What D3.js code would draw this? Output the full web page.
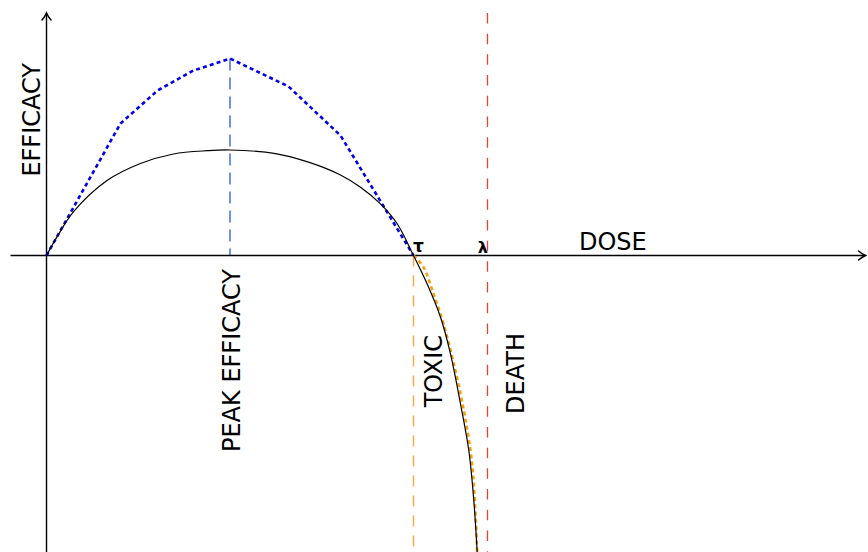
<!DOCTYPE html>
<html>
<head>
<meta charset="utf-8">
<script src="https://cdn.jsdelivr.net/npm/d3@7"></script>
<style>
  html, body { margin: 0; padding: 0; background: #fff; }
  svg { display: block; }
  text { font-family: "DejaVu Sans", sans-serif; }
</style>
</head>
<body>
<svg id="chart" width="868" height="552"></svg>
<script>
// ---- data (dose in units of tau, efficacy in units of peak efficacy) ----
const effDose   = [0, 0.029, 0.0744, 0.165, 0.256, 0.346, 0.438, 0.5, 0.624, 0.714, 0.801, 0.8556, 0.910, 0.9556, 1.0, 1.037, 1.0736, 1.1008, 1.128, 1.1507, 1.1643, 1.1736];
const effValue  = [0, 0.18, 0.42, 0.714, 0.876, 0.967, 0.998, 1.005, 0.971, 0.889, 0.767, 0.650, 0.492, 0.302, 0, -0.27, -0.588, -0.936, -1.412, -1.857, -2.333, -2.829];

const idealDose  = [0, 0.2016, 0.3025, 0.4005, 0.5, 0.6594, 0.8011, 1.0];
const idealValue = [0, 1.257, 1.571, 1.762, 1.876, 1.61, 1.143, 0];

const toxDose  = [1.0, 1.0272, 1.0545, 1.0818, 1.1099, 1.1371, 1.1553, 1.1643, 1.1736];
const toxValue = [0, -0.111, -0.365, -0.651, -1.032, -1.476, -1.857, -2.175, -2.829];

const peakDose = 0.5, peakValue = 1.876;
const tauDose = 1.0;
const lambdaDose = 1.2016;

const xAxisExtent = [-0.098, 2.2316];
const yAxisExtent = [-2.84, 2.31];

// ---- scales ----
const x = d3.scaleLinear().domain([0, 1]).range([46.5, 413.5]);
const y = d3.scaleLinear().domain([0, 1]).range([255.5, 150.5]);

const svg = d3.select("#chart");

const pts = (xs, ys) => xs.map((d, i) => [d, ys[i]]);
const smooth = d3.line().x(d => x(d[0])).y(d => y(d[1])).curve(d3.curveCatmullRom.alpha(0.5));
const straight = d3.line().x(d => x(d[0])).y(d => y(d[1]));

// arrowheads
const defs = svg.append("defs");
defs.append("marker")
  .attr("id", "arrow")
  .attr("viewBox", "-10 -6 12 12")
  .attr("refX", 0).attr("refY", 0)
  .attr("markerWidth", 12).attr("markerHeight", 12)
  .attr("markerUnits", "userSpaceOnUse")
  .attr("orient", "auto")
  .append("path")
  .attr("d", "M-7,-4.5 Q-3,-1.2 0,0 Q-3,1.2 -7,4.5")
  .attr("fill", "none").attr("stroke", "#000").attr("stroke-width", 1.5).attr("stroke-linecap", "round");

// vertical reference lines
svg.append("line")
  .attr("x1", x(lambdaDose)).attr("x2", x(lambdaDose))
  .attr("y1", y(yAxisExtent[1])).attr("y2", y(yAxisExtent[0]))
  .attr("stroke", "#e04535").attr("stroke-width", 1.3)
  .attr("stroke-dasharray", "10.5 10.2");

svg.append("line")
  .attr("x1", x(tauDose)).attr("x2", x(tauDose))
  .attr("y1", y(0)).attr("y2", y(yAxisExtent[0]))
  .attr("stroke", "#f9ac4c").attr("stroke-width", 1.5)
  .attr("stroke-dasharray", "11 9");

svg.append("line")
  .attr("x1", x(peakDose)).attr("x2", x(peakDose))
  .attr("y1", y(peakValue)).attr("y2", y(0))
  .attr("stroke", "#7090f0").attr("stroke-width", 2)
  .attr("stroke-dasharray", "12 7");

// axes
svg.append("line")
  .attr("x1", x(xAxisExtent[0])).attr("x2", x(xAxisExtent[1]))
  .attr("y1", y(0)).attr("y2", y(0))
  .attr("stroke", "#000").attr("stroke-width", 1.4)
  .attr("marker-end", "url(#arrow)");

svg.append("line")
  .attr("x1", x(0)).attr("x2", x(0))
  .attr("y1", y(yAxisExtent[0])).attr("y2", y(yAxisExtent[1]))
  .attr("stroke", "#000").attr("stroke-width", 1.4)
  .attr("marker-end", "url(#arrow)");

// curves
svg.append("path")
  .attr("d", straight(pts(idealDose, idealValue)))
  .attr("fill", "none").attr("stroke", "#0000ee").attr("stroke-width", 2.6)
  .attr("stroke-dasharray", "4 3.2");

svg.append("path")
  .attr("d", smooth(pts(toxDose, toxValue)))
  .attr("fill", "none").attr("stroke", "#f5a000").attr("stroke-width", 2.6)
  .attr("stroke-dasharray", "4 3.2");

svg.append("path")
  .attr("d", smooth(pts(effDose, effValue)))
  .attr("fill", "none").attr("stroke", "#000").attr("stroke-width", 1.2);

// labels
const vlabel = (txt, bx, topY) => svg.append("text")
  .attr("transform", `translate(${bx},${topY}) rotate(-90)`)
  .attr("text-anchor", "end")
  .attr("font-size", 24)
  .attr("fill", "#000")
  .text(txt);

vlabel("EFFICACY", 39.5, 63);
vlabel("PEAK EFFICACY", 239.5, 269);
vlabel("TOXIC", 441.5, 335);
vlabel("DEATH", 523.5, 333);

svg.append("text")
  .attr("x", 579).attr("y", 250)
  .attr("font-size", 24).attr("fill", "#000")
  .text("DOSE");

svg.append("text")
  .attr("x", x(tauDose) - 0.5).attr("y", 252)
  .attr("font-family", "DejaVu Serif, serif")
  .attr("font-weight", "bold")
  .attr("font-size", 17).attr("fill", "#000")
  .text("τ");

svg.append("text")
  .attr("x", x(lambdaDose) + 0.5).attr("y", 253)
  .attr("text-anchor", "end")
  .attr("font-family", "DejaVu Serif, serif")
  .attr("font-weight", "bold")
  .attr("font-size", 16).attr("fill", "#000")
  .text("λ");
</script>
</body>
</html>
